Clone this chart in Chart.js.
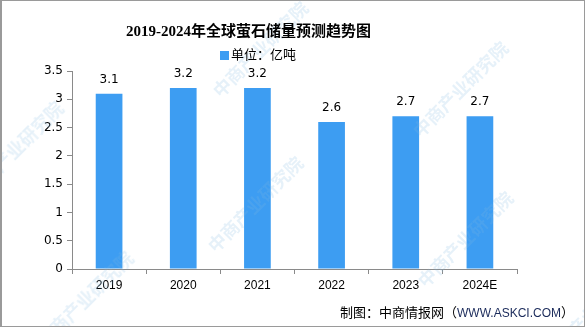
<!DOCTYPE html>
<html>
<head>
<meta charset="utf-8">
<script src="https://cdn.jsdelivr.net/npm/chart.js@4.4.1/dist/chart.umd.min.js"></script>
<style>
    html, body { margin: 0; padding: 0; background: #fff; }
    #wrap { position: relative; width: 585px; height: 327px; overflow: hidden; }
    #myChart { position: absolute; left: 0; top: 0; }
    .frame { position: absolute; left: 0; top: 0; width: 582px; height: 325px; border: 1px solid #9a9a9a; border-left-width: 2px; pointer-events: none; }
    .title { position: absolute; left: 126px; top: 19px; font: bold 15px "Liberation Serif", "Noto Sans CJK SC", serif; color: #000; white-space: nowrap; }
    .legend { position: absolute; left: 220px; top: 44px; font: 13px "Noto Sans CJK SC", sans-serif; color: #000; white-space: nowrap; }
    .legend i { display: inline-block; width: 9px; height: 9px; background: #3d9df2; margin-right: 2px; vertical-align: -1px; }
    .footer { position: absolute; left: 340px; top: 302px; font: 13px "Noto Sans CJK SC", sans-serif; color: #000; white-space: nowrap; }
    .footer span { font-family: "Liberation Sans", sans-serif; font-size: 12px; color: #1a2a5a; }
    .wm { position: absolute; font: bold 18px "Noto Sans CJK SC", sans-serif; color: rgba(130, 185, 225, 0.2); transform: rotate(-45deg); transform-origin: left center; white-space: nowrap; pointer-events: none; }
</style>
</head>
<body>
<div id="wrap">
    <canvas id="myChart" width="585" height="327"></canvas>
    <div class="wm" style="left:-30px; top:180px;">中商产业研究院</div>
    <div class="wm" style="left:215px; top:80px;">中商产业研究院</div>
    <div class="wm" style="left:415px; top:120px;">中商产业研究院</div>
    <div class="wm" style="left:40px; top:330px;">中商产业研究院</div>
    <div class="wm" style="left:210px; top:235px;">中商产业研究院</div>
    <div class="wm" style="left:420px; top:270px;">中商产业研究院</div>
    <div class="wm" style="left:545px; top:345px;">中商产业研究院</div>
    <div class="title">2019-2024年全球萤石储量预测趋势图</div>
    <div class="legend"><i></i>单位：亿吨</div>
    <div class="footer">制图：中商情报网（<span>WWW.ASKCI.COM</span>）</div>
    <div class="frame"></div>
</div>
<script>
const years = ['2019', '2020', '2021', '2022', '2023', '2024E'];
const reserves = [3.1, 3.2, 3.2, 2.6, 2.7, 2.7];   // 亿吨
const yTicks = [0, 0.5, 1, 1.5, 2, 2.5, 3, 3.5];

const barColor = '#3d9df2';
const axisColor = '#8a8a8a';

// value labels above each bar
const valueLabels = {
    id: 'valueLabels',
    afterDatasetsDraw(chart) {
        const ctx = chart.ctx;
        const meta = chart.getDatasetMeta(0);
        ctx.save();
        ctx.font = '12px "DejaVu Sans", sans-serif';
        ctx.fillStyle = '#000';
        ctx.textAlign = 'center';
        ctx.textBaseline = 'bottom';
        meta.data.forEach((bar, i) => {
            ctx.fillText(String(reserves[i]), bar.x, bar.y - 8);
        });
        ctx.restore();
    }
};

new Chart(document.getElementById('myChart').getContext('2d'), {
    type: 'bar',
    plugins: [valueLabels],
    data: {
        labels: years,
        datasets: [{
            label: '单位：亿吨',
            data: reserves,
            backgroundColor: barColor,
            categoryPercentage: 1,
            barPercentage: 0.36
        }]
    },
    options: {
        responsive: false,
        animation: false,
        layout: {
            padding: { left: 0, right: 68, top: 71, bottom: 0 }
        },
        scales: {
            x: {
                offset: true,
                grid: {
                    offset: true,
                    drawOnChartArea: false,
                    drawTicks: true,
                    tickLength: 5,
                    color: axisColor
                },
                border: { color: axisColor, width: 1 },
                ticks: {
                    color: '#000',
                    padding: 4,
                    maxRotation: 0,
                    font: { family: '"Liberation Sans", sans-serif', size: 12 }
                },
                afterFit: (scale) => { scale.height = 58; }
            },
            y: {
                min: 0,
                max: 3.5,
                afterBuildTicks: (scale) => {
                    scale.ticks = yTicks.map(v => ({ value: v }));
                },
                grid: {
                    drawOnChartArea: false,
                    drawTicks: true,
                    tickLength: 5,
                    color: axisColor
                },
                border: { color: axisColor, width: 1 },
                ticks: {
                    color: '#000',
                    padding: 4,
                    font: { family: '"DejaVu Sans", sans-serif', size: 12 },
                    callback: (v) => String(v)
                },
                afterFit: (scale) => { scale.width = 72; }
            }
        },
        plugins: {
            legend: { display: false },
            title: { display: false },
            tooltip: { enabled: false }
        }
    }
});
</script>
</body>
</html>
